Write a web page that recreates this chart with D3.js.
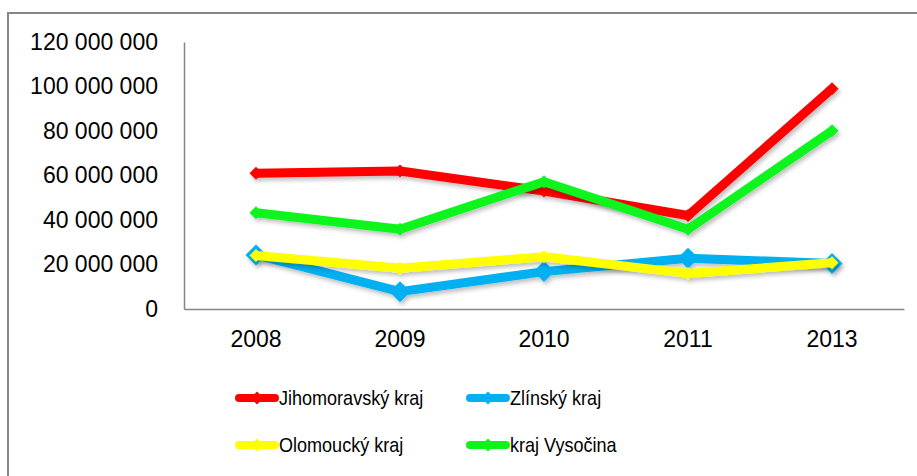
<!DOCTYPE html>
<html>
<head>
<meta charset="utf-8">
<script src="https://cdn.jsdelivr.net/npm/d3@7"></script>
<style>
  html, body { margin: 0; padding: 0; background: #fff; }
  svg { display: block; font-family: "Liberation Sans", Arial, sans-serif; }
</style>
</head>
<body>
<div id="chart"></div>
<script>
// data
const years = ["2008", "2009", "2010", "2011", "2013"];
const jihomoravsky = [61000000, 62000000, 53000000, 42000000, 99000000];
const zlinsky = [24300000, 7800000, 16800000, 22800000, 20500000];
const olomoucky = [24000000, 18300000, 23500000, 16000000, 20800000];
const vysocina = [43300000, 35800000, 57200000, 35800000, 80100000];
const yTicks = [0, 20000000, 40000000, 60000000, 80000000, 100000000, 120000000];

const series = [
    { name: "Jihomoravský kraj", values: jihomoravsky, color: "#ff0000", marker: 13 },
    { name: "Zlínský kraj", values: zlinsky, color: "#00b0f0", marker: 21 },
    { name: "Olomoucký kraj", values: olomoucky, color: "#ffff00", marker: 13 },
    { name: "kraj Vysočina", values: vysocina, color: "#0af51c", marker: 13 }
];

const width = 917, height = 476;
const plot = { left: 184, right: 904, top: 42, bottom: 309 };

const svg = d3.select("#chart").append("svg")
    .attr("width", width)
    .attr("height", height);

const defs = svg.append("defs");
defs.append("filter")
    .attr("id", "shadow")
    .attr("x", "-20%").attr("y", "-20%")
    .attr("width", "140%").attr("height", "140%")
    .append("feDropShadow")
    .attr("dx", 2).attr("dy", 3)
    .attr("stdDeviation", 2)
    .attr("flood-color", "#000")
    .attr("flood-opacity", 0.25);

// chart frame (runs off the right and bottom edges)
svg.append("rect")
    .attr("x", 8).attr("y", 13)
    .attr("width", 940).attr("height", 500)
    .attr("fill", "#fff")
    .attr("stroke", "#868686")
    .attr("stroke-width", 2);

const x = d3.scaleBand().domain(years).range([plot.left, plot.right]);
const y = d3.scaleLinear().domain([0, 120000000]).range([plot.bottom, plot.top]);

const fmt = v => d3.format(",")(v).replace(/,/g, " ");

// y axis
const yAxis = svg.append("g")
    .attr("transform", `translate(${plot.left},0)`)
    .call(d3.axisLeft(y).tickValues(yTicks).tickFormat(fmt).tickSize(0).tickPadding(26));
yAxis.select(".domain").attr("stroke", "#868686").attr("stroke-width", 1.5);
yAxis.selectAll("text")
    .attr("font-size", 23)
    .attr("font-family", "Liberation Sans, Arial, sans-serif")
    .attr("fill", "#000");

// x axis
const xAxis = svg.append("g")
    .attr("transform", `translate(0,${plot.bottom})`)
    .call(d3.axisBottom(x).tickSize(0).tickPadding(22));
xAxis.select(".domain").attr("stroke", "#868686").attr("stroke-width", 1.5);
xAxis.selectAll("text")
    .attr("font-size", 23)
    .attr("font-family", "Liberation Sans, Arial, sans-serif")
    .attr("fill", "#000");

const line = d3.line()
    .x((d, i) => x(years[i]) + x.bandwidth() / 2)
    .y(d => y(d));

const diamond = s => `M0,${-s / 2}L${s / 2},0L0,${s / 2}L${-s / 2},0Z`;

// series
series.forEach(s => {
    const g = svg.append("g").attr("filter", "url(#shadow)");
    g.append("path")
        .datum(s.values)
        .attr("d", line)
        .attr("fill", "none")
        .attr("stroke", s.color)
        .attr("stroke-width", 9)
        .attr("stroke-linejoin", "round");
    g.selectAll("path.marker")
        .data(s.values)
        .enter().append("path")
        .attr("class", "marker")
        .attr("transform", (d, i) => `translate(${x(years[i]) + x.bandwidth() / 2},${y(d)})`)
        .attr("d", diamond(s.marker))
        .attr("fill", s.color);
});

// legend
const legendPos = [
    { lx: 235, ly: 398 },
    { lx: 466, ly: 398 },
    { lx: 235, ly: 445 },
    { lx: 466, ly: 445 }
];
series.forEach((s, i) => {
    const p = legendPos[i];
    const g = svg.append("g").attr("transform", `translate(${p.lx},${p.ly})`);
    g.append("line")
        .attr("x1", 4).attr("x2", 40)
        .attr("stroke", s.color)
        .attr("stroke-width", 8)
        .attr("stroke-linecap", "round");
    g.append("path")
        .attr("transform", "translate(22,0)")
        .attr("d", diamond(13))
        .attr("fill", s.color);
    // condensed look of the original legend font
    g.append("text")
        .attr("transform", "translate(44,0) scale(0.88,1)")
        .attr("dy", "0.36em")
        .attr("font-size", 20.5)
        .attr("fill", "#000")
        .text(s.name);
});
</script>
</body>
</html>
